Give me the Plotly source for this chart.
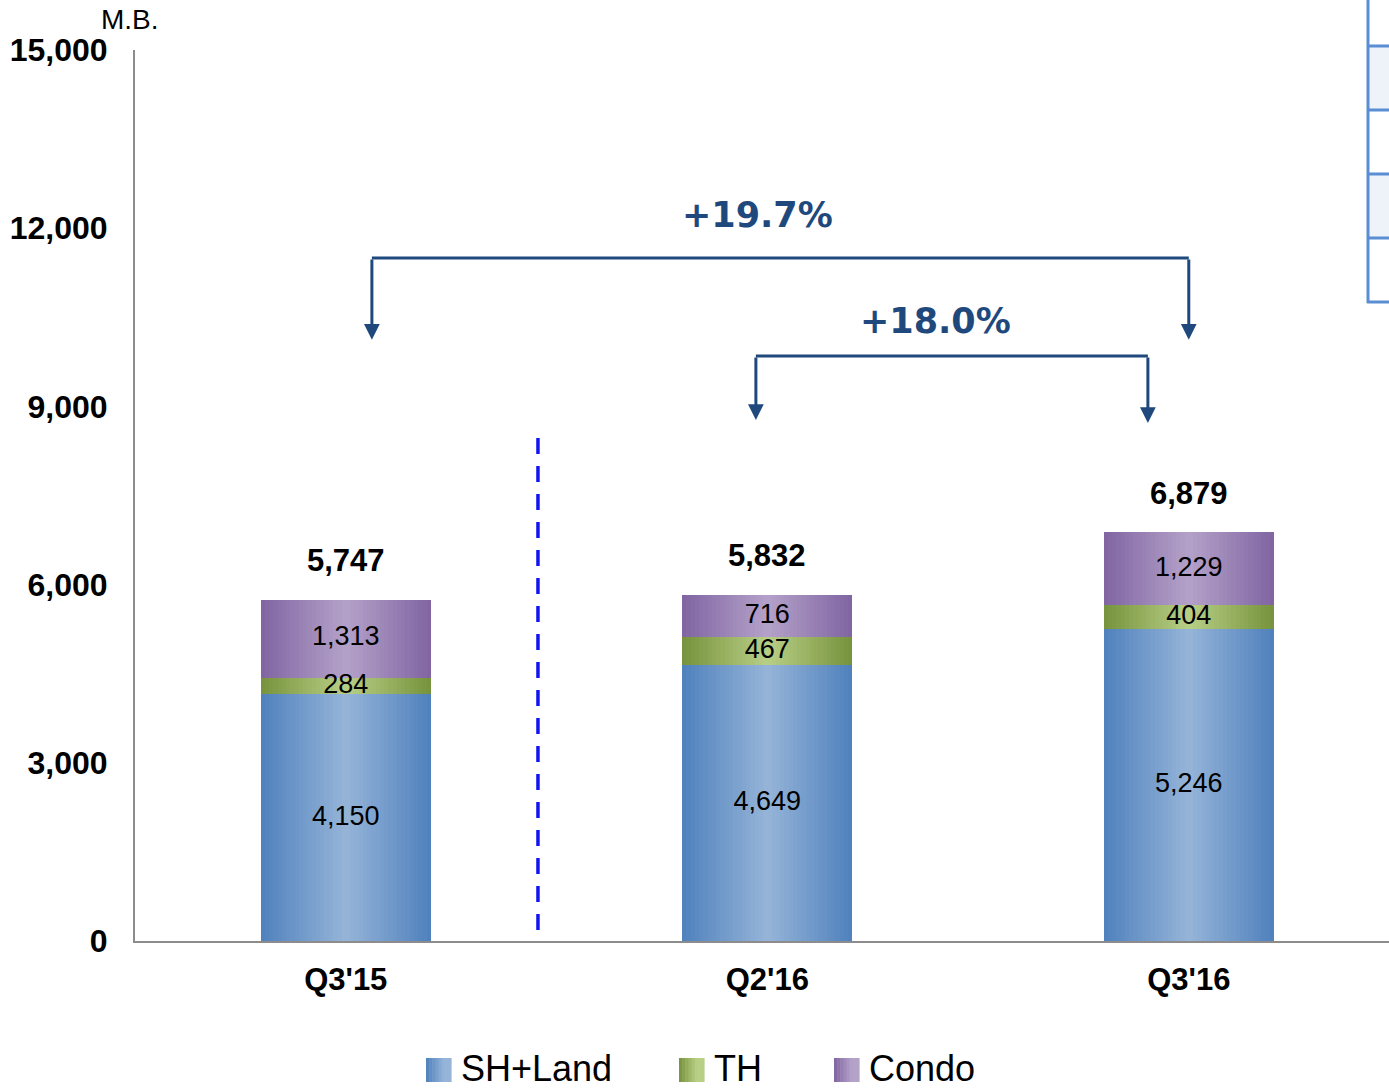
import plotly.graph_objects as go

# ---- data -------------------------------------------------------------
categories = ["Q3'15", "Q2'16", "Q3'16"]
series_names = ["SH+Land", "TH", "Condo"]
sh_land = [4150, 4649, 5246]
th = [284, 467, 404]
condo = [1313, 716, 1229]
y_ticks = [0, 3000, 6000, 9000, 12000, 15000]
growth_labels = ["+19.7%", "+18.0%"]
unit_label = "M.B."

# gradient colours per series: (edge, centre)
palette = {
    "SH+Land": ((79, 129, 189), (150, 180, 216)),
    "TH": ((118, 146, 60), (184, 207, 134)),
    "Condo": ((128, 100, 162), (180, 162, 201)),
}

W, H = 1389, 1089
M_L, M_R, M_T, M_B = 135, 0, 50, 148
PLOT_W = W - M_L - M_R
PLOT_H = H - M_T - M_B


def px_x(px):
    """canvas pixel x -> paper x"""
    return (px - M_L) / PLOT_W


def px_y(py):
    """canvas pixel y -> paper y"""
    return (H - M_B - py) / PLOT_H


def mix(c0, c1, f):
    return "rgb(%d,%d,%d)" % tuple(round(a + (b - a) * f) for a, b in zip(c0, c1))


FONT = "Liberation Sans"
ARROW = "#1F497D"

x_pos = list(range(len(categories)))
stack = [sh_land, th, condo]
bases = []
running = [0] * len(categories)
for vals in stack:
    bases.append(running[:])
    running = [r + v for r, v in zip(running, vals)]
totals = running

fig = go.Figure()

# ---- stacked bars, each built from thin strips for a cylinder-like shading
BAR_W = 0.404
N_STRIPS = 40
step = BAR_W / N_STRIPS
for name, vals, base in zip(series_names, stack, bases):
    dark, light = palette[name]
    for k in range(N_STRIPS):
        t = (k + 0.5) / N_STRIPS
        f = 1 - abs(2 * t - 1)
        off = -BAR_W / 2 + k * step
        w = step * 1.3 if k < N_STRIPS - 1 else step
        fig.add_trace(go.Bar(
            x=x_pos, y=vals, base=base, width=w, offset=off,
            marker=dict(color=mix(dark, light, f), line=dict(width=0)),
            name=name, legendgroup=name, showlegend=False, hoverinfo="skip",
        ))

# segment value labels
for vals, base in zip(stack, bases):
    fig.add_trace(go.Scatter(
        x=x_pos, y=[b + v / 2 for b, v in zip(base, vals)],
        mode="text", text=[f"{v:,}" for v in vals],
        textfont=dict(family=FONT, size=27, color="black"),
        showlegend=False, hoverinfo="skip",
    ))

annotations = []
shapes = []

# totals above bars
for xi, tot in zip(x_pos, totals):
    annotations.append(dict(
        x=xi, y=tot, text=f"{tot:,}", showarrow=False, yanchor="middle", yshift=39,
        font=dict(family=FONT, size=31, color="black", weight="bold"),
    ))

# divider between prior-year and current-year quarters
shapes.append(dict(
    type="line", xref="x", yref="y", x0=0.456, x1=0.456, y0=185, y1=8470,
    line=dict(color="#1414F0", width=3.5, dash="16px,12px"),
))

# growth brackets: (left x, right x, bar y, left tip y, right tip y, label x, label y)
brackets = [
    (0.062, 2.0, 11500, 10120, 10120, 0.976, 12220),
    (0.973, 1.903, 9850, 8770, 8720, 1.398, 10440),
]
for (xl, xr, yb, tl, tr, lx, ly), lab in zip(brackets, growth_labels):
    shapes.append(dict(type="line", xref="x", yref="y", x0=xl, x1=xr, y0=yb, y1=yb,
                       line=dict(color=ARROW, width=3)))
    for xa, tip in ((xl, tl), (xr, tr)):
        annotations.append(dict(
            x=xa, y=tip, ax=xa, ay=yb, xref="x", yref="y", axref="x", ayref="y",
            text="", showarrow=True, arrowhead=2, arrowsize=1.05, arrowwidth=3,
            arrowcolor=ARROW,
        ))
    annotations.append(dict(
        x=lx, y=ly, text=lab, showarrow=False,
        font=dict(family="DejaVu Sans", size=35, color=ARROW, weight="bold"),
    ))

# unit label
annotations.append(dict(
    x=px_x(130), y=px_y(20), xref="paper", yref="paper", text=unit_label,
    xanchor="center", yanchor="middle",
    showarrow=False, font=dict(family=FONT, size=28, color="black"),
))

# legend drawn below the axis with shaded swatches
legend_x = [426, 679, 834]
SW = 25
for name, lx in zip(series_names, legend_x):
    dark, light = palette[name]
    n = 8
    for k in range(n):
        f = min(1.0, (k + 0.5) / n * 1.4)
        shapes.append(dict(
            type="rect", xref="paper", yref="paper",
            x0=px_x(lx + k * SW / n), x1=px_x(lx + (k + 1) * SW / n + 0.6),
            y0=px_y(1082), y1=px_y(1058),
            line=dict(width=0), fillcolor=mix(dark, light, f),
        ))
    annotations.append(dict(
        x=px_x(lx + 33), y=px_y(1068), xref="paper", yref="paper", text=name,
        xanchor="left", yanchor="middle", showarrow=False,
        font=dict(family=FONT, size=36, color="black"),
    ))

# partial side table at the right edge
TBL = "#5A8ED4"
row_lines = [46, 110, 174, 238, 302]
for top, bot in ((46, 110), (174, 238)):
    shapes.append(dict(type="rect", xref="paper", yref="paper",
                       x0=px_x(1368), x1=px_x(1400), y0=px_y(bot), y1=px_y(top),
                       line=dict(width=0), fillcolor="#EEF2F9", layer="below"))
shapes.append(dict(type="line", xref="paper", yref="paper",
                   x0=px_x(1368), x1=px_x(1368), y0=px_y(0), y1=px_y(303),
                   line=dict(color=TBL, width=3)))
for ry in row_lines:
    shapes.append(dict(type="line", xref="paper", yref="paper",
                       x0=px_x(1367), x1=px_x(1400), y0=px_y(ry), y1=px_y(ry),
                       line=dict(color=TBL, width=3)))

fig.update_layout(
    width=W, height=H, autosize=False,
    margin=dict(l=M_L, r=M_R, t=M_T, b=M_B, pad=0),
    paper_bgcolor="white", plot_bgcolor="white",
    barmode="overlay", bargap=0,
    showlegend=False,
    annotations=annotations, shapes=shapes,
    xaxis=dict(
        range=[-0.5, 2.475], tickvals=x_pos, ticktext=categories,
        showgrid=False, zeroline=False, showline=True, linecolor="#8C8C8C", linewidth=2,
        ticks="", ticklabelstandoff=10,
        tickfont=dict(family=FONT, size=31, color="black", weight="bold"),
    ),
    yaxis=dict(
        range=[0, 15000], tickvals=y_ticks, tickformat=",",
        showgrid=False, zeroline=False, showline=True, linecolor="#8C8C8C", linewidth=2,
        ticks="", ticklabelstandoff=19,
        tickfont=dict(family=FONT, size=32, color="black", weight="bold"),
    ),
)

fig.write_html("out.html")
